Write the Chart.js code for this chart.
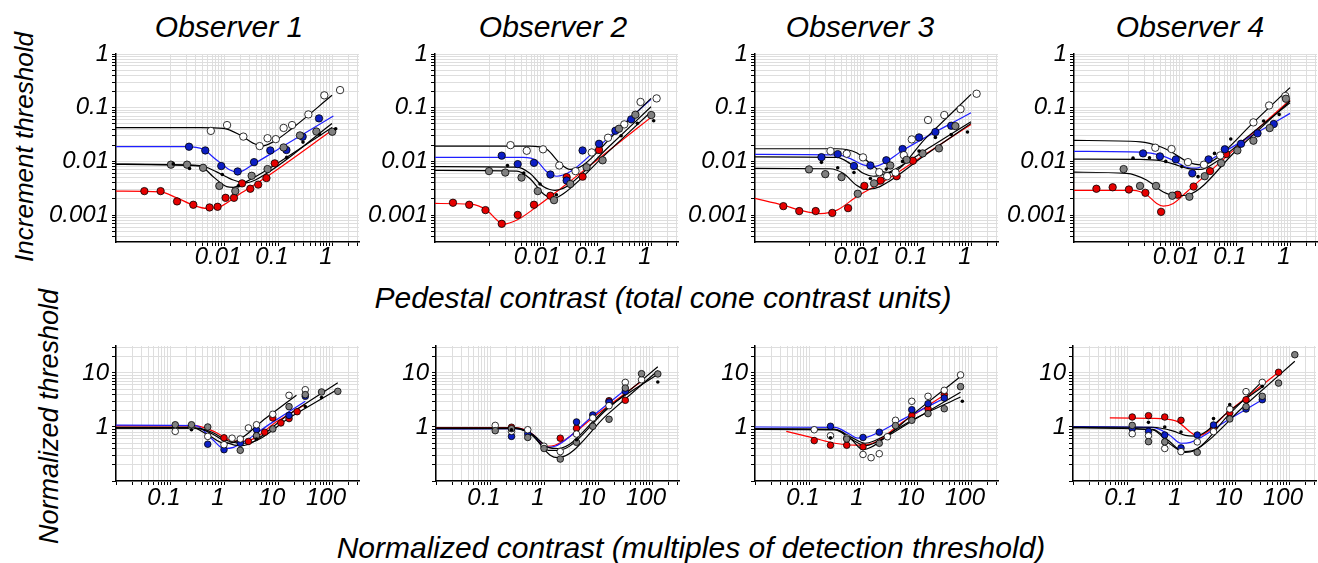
<!DOCTYPE html>
<html>
<head>
<meta charset="utf-8">
<script src="https://cdn.jsdelivr.net/npm/chart.js@4.4.1/dist/chart.umd.min.js"></script>
<style>
    body { margin: 0; width: 1318px; height: 563px; position: relative; overflow: hidden; background: #fff;
           font-family: 'Liberation Sans', Arial, Helvetica, sans-serif; font-style: italic; color: #000; }
    .lbl { position: absolute; white-space: nowrap; text-align: center; }
    .rot { transform: rotate(-90deg); }
    canvas { position: absolute; }
</style>
</head>
<body>
<div class="lbl" style="left:129px;top:12px;width:200px;font-size:30px;line-height:30px">Observer 1</div>
<div class="lbl" style="left:453px;top:12px;width:200px;font-size:30px;line-height:30px">Observer 2</div>
<div class="lbl" style="left:760px;top:12px;width:200px;font-size:30px;line-height:30px">Observer 3</div>
<div class="lbl" style="left:1090px;top:12px;width:200px;font-size:30px;line-height:30px">Observer 4</div>
<div class="lbl" style="left:263px;top:283px;width:800px;font-size:30px;line-height:30px">Pedestal contrast (total cone contrast units)</div>
<div class="lbl" style="left:291px;top:533px;width:800px;font-size:30px;line-height:30px">Normalized contrast (multiples of detection threshold)</div>
<div class="lbl rot" style="left:-126px;top:134px;width:300px;height:26px;font-size:26px;line-height:26px">Increment threshold</div>
<div class="lbl rot" style="left:-101px;top:403px;width:300px;height:27px;font-size:27px;line-height:27px">Normalized threshold</div>

<script>
const FONT = "'Liberation Sans', Arial, Helvetica, sans-serif";

// tick labels and axis ranges
const topXLabels = [0.01, 0.1, 1];
const topYLabels = [0.001, 0.01, 0.1, 1];
const botXLabels = [0.1, 1, 10, 100];
const botYLabels = [1, 10];
const topXRange = [0.0001, 3.16];
const topYRange = [0.000316, 1];
const botXRange = [0.01, 316];
const botYRange = [0.1, 31.6];

// ---- Observer 1 (increment thresholds) ----
const o1White = [[0.0057,0.037],[0.0114,0.0475],[0.0228,0.029],[0.0457,0.0193],[0.064,0.027],[0.091,0.026],[0.127,0.042],[0.182,0.0475],[0.365,0.075],[0.72,0.17],[1.41,0.213]];
const o1WhiteFit = [[0.0001,0.0424],[0.0036,0.0424],[0.0097,0.0412],[0.0198,0.031],[0.035,0.0217],[0.05,0.0193],[0.082,0.0232],[0.167,0.0384],[1,0.17]];
const o1Blue = [[0.00225,0.0188],[0.0045,0.016],[0.0089,0.0082],[0.0179,0.0065],[0.036,0.0097],[0.072,0.016],[0.143,0.0163],[0.286,0.0288],[0.574,0.0633]];
const o1BlueFit = [[0.0001,0.0188],[0.002,0.0188],[0.0041,0.0168],[0.0073,0.0106],[0.0129,0.0069],[0.0184,0.0063],[0.035,0.0089],[0.126,0.0193],[1.06,0.07]];
const o1Gray = [[0.00104,0.0087],[0.00207,0.0087],[0.0041,0.0076],[0.0082,0.0035],[0.0162,0.0028],[0.0325,0.0054],[0.064,0.0072],[0.127,0.0182],[0.255,0.0305],[0.513,0.036],[1.01,0.0357]];
const o1GrayFit = [[0.0001,0.0088],[0.0036,0.0082],[0.0063,0.0052],[0.0112,0.0034],[0.0149,0.0033],[0.026,0.0042],[0.062,0.0069],[1,0.043]];
const o1Dots = [[0.00115,0.009],[0.0023,0.0074],[0.0093,0.0057],[0.0184,0.0035],[0.145,0.0119],[0.29,0.0229],[0.59,0.0318],[1.17,0.0406]];
const o1DotsFit = [[0.0001,0.0089],[0.0036,0.0084],[0.0073,0.0064],[0.0149,0.0045],[0.026,0.004],[0.062,0.006],[1,0.051]];
const o1Red = [[0.000335,0.0028],[0.00067,0.0028],[0.00135,0.0018],[0.0027,0.00156],[0.0054,0.00139],[0.0076,0.00143],[0.0107,0.0021],[0.0153,0.0021],[0.0216,0.0039],[0.0307,0.0031],[0.043,0.0037],[0.061,0.0049],[0.087,0.0092]];
const o1RedFit = [[0.0001,0.0028],[0.00065,0.0027],[0.00133,0.0021],[0.0027,0.00153],[0.0048,0.00133],[0.0084,0.00143],[0.0198,0.0025],[0.062,0.0052],[1,0.038]];

// ---- Observer 2 ----
const o2White = [[0.0025,0.0201],[0.005,0.0158],[0.01,0.0168],[0.02,0.0084],[0.04,0.0066],[0.08,0.0147],[0.16,0.0276],[0.32,0.0489],[0.64,0.128],[1.27,0.149]];
const o2WhiteFit = [[0.0001,0.0193],[0.0057,0.0193],[0.0117,0.0168],[0.0206,0.0092],[0.0316,0.0071],[0.056,0.0086],[0.2,0.031],[1,0.149]];
const o2Blue = [[0.00172,0.0128],[0.0034,0.0089],[0.0068,0.0094],[0.0137,0.0057],[0.0274,0.0044],[0.054,0.016],[0.109,0.0213],[0.219,0.0372],[0.43,0.0607]];
const o2BlueFit = [[0.0001,0.0119],[0.0043,0.0119],[0.0076,0.0103],[0.0117,0.0064],[0.0179,0.0053],[0.0316,0.0064],[0.18,0.0306],[1,0.143]];
const o2Gray = [[0.001,0.0066],[0.002,0.0062],[0.004,0.005],[0.008,0.0028],[0.016,0.0019],[0.032,0.0038],[0.064,0.0078],[0.127,0.0105],[0.255,0.0406],[0.513,0.074],[1.01,0.073]];
const o2GrayFit = [[0.0001,0.0068],[0.0033,0.0066],[0.0057,0.0048],[0.0101,0.0025],[0.0155,0.00205],[0.0238,0.0025],[0.15,0.0141],[1,0.084]];
const o2Dots = [[0.0022,0.0084],[0.0044,0.0061],[0.0088,0.0038],[0.0177,0.0024],[0.28,0.0301],[0.56,0.0511],[1.12,0.0573]];
const o2DotsFit = [[0.0001,0.008],[0.0033,0.0078],[0.0057,0.006],[0.0101,0.0034],[0.0167,0.0029],[0.0274,0.0034],[0.16,0.0182],[1,0.104]];
const o2Red = [[0.000215,0.0017],[0.00043,0.00156],[0.00086,0.00124],[0.00172,0.00069],[0.0034,0.00101],[0.0068,0.00156],[0.0137,0.0023],[0.0274,0.0051],[0.054,0.0052],[0.109,0.0163]];
const o2RedFit = [[0.0001,0.00165],[0.00045,0.0016],[0.0009,0.00124],[0.0014,0.00081],[0.00184,0.00068],[0.0033,0.00081],[0.0076,0.00143],[0.0238,0.0034],[0.15,0.0147],[1,0.066]];

// ---- Observer 3 ----
const o3White = [[0.0025,0.0156],[0.005,0.0139],[0.01,0.0119],[0.02,0.0063],[0.028,0.0053],[0.04,0.0062],[0.057,0.0131],[0.08,0.0257],[0.16,0.059],[0.32,0.073],[0.64,0.094],[1.27,0.182]];
const o3WhiteFit = [[0.0001,0.0172],[0.0033,0.0172],[0.0076,0.0145],[0.0135,0.0092],[0.0206,0.0067],[0.0316,0.0062],[0.15,0.028],[1,0.177]];
const o3Blue = [[0.0017,0.012],[0.0034,0.0137],[0.0068,0.0082],[0.0137,0.0084],[0.027,0.0105],[0.054,0.017],[0.109,0.028],[0.219,0.0352],[0.43,0.0462]];
const o3BlueFit = [[0.0001,0.0135],[0.0033,0.0132],[0.0057,0.0114],[0.0101,0.0086],[0.0155,0.008],[0.0238,0.0092],[0.056,0.0163],[1,0.0807]];
const o3Gray = [[0.001,0.0071],[0.002,0.0058],[0.004,0.0051],[0.008,0.0025],[0.016,0.0039],[0.032,0.0084],[0.064,0.0107],[0.127,0.0141],[0.255,0.0175],[0.513,0.0455]];
const o3GrayFit = [[0.0001,0.0074],[0.00245,0.0073],[0.0043,0.006],[0.0076,0.0036],[0.0117,0.003],[0.0206,0.0034],[0.14,0.013],[1,0.0511]];
const o3Dots = [[0.0017,0.0096],[0.0034,0.0076],[0.0068,0.0062],[0.0137,0.0048],[0.027,0.0072],[0.054,0.01],[0.109,0.0156],[0.219,0.028],[0.43,0.0318],[0.86,0.0352]];
const o3DotsFit = [[0.0001,0.0122],[0.0033,0.0119],[0.0057,0.0092],[0.0101,0.006],[0.0155,0.0053],[0.0316,0.0064],[0.18,0.0188],[1,0.0548]];
const o3Red = [[0.000335,0.00147],[0.00066,0.00119],[0.00133,0.00119],[0.0027,0.0011],[0.0053,0.00135],[0.0106,0.0035],[0.0212,0.0044],[0.042,0.0053],[0.084,0.0103]];
const o3RedFit = [[0.0001,0.00205],[0.000335,0.00153],[0.00068,0.00124],[0.0016,0.00107],[0.0033,0.00124],[0.0076,0.0022],[0.0238,0.0042],[0.15,0.0141],[1,0.0489]];

// ---- Observer 4 ----
const o4White = [[0.0032,0.018],[0.0064,0.017],[0.0129,0.0097],[0.0255,0.0087],[0.051,0.0129],[0.21,0.0533],[0.41,0.11],[0.82,0.165]];
const o4WhiteFit = [[0.0001,0.0246],[0.0017,0.0232],[0.004,0.0188],[0.0071,0.0141],[0.0126,0.0099],[0.0222,0.0086],[0.039,0.0106],[0.2,0.0506],[1,0.236]];
const o4Blue = [[0.0019,0.0141],[0.0039,0.0124],[0.0077,0.0109],[0.0155,0.006],[0.031,0.0109],[0.062,0.0168],[0.124,0.0213],[0.25,0.0333],[0.5,0.0497]];
const o4BlueFit = [[0.0001,0.0154],[0.0017,0.0149],[0.004,0.0131],[0.0071,0.0103],[0.0126,0.0077],[0.0187,0.0075],[0.033,0.0106],[0.18,0.0287],[1,0.0784]];
const o4Gray = [[0.00083,0.0072],[0.00167,0.0035],[0.0033,0.0035],[0.0066,0.0023],[0.0137,0.0022],[0.0263,0.0053],[0.053,0.0093],[0.106,0.016],[0.21,0.0243],[0.42,0.0418],[0.84,0.147]];
const o4GrayFit = [[0.0001,0.0063],[0.00094,0.006],[0.0022,0.0045],[0.0045,0.0027],[0.008,0.0023],[0.0131,0.0024],[0.1,0.0158],[1,0.133]];
const o4Dots = [[0.00124,0.0115],[0.0025,0.0117],[0.005,0.01],[0.0099,0.008],[0.0198,0.0052],[0.04,0.0141],[0.08,0.0261],[0.325,0.0565],[0.63,0.075]];
const o4DotsFit = [[0.0001,0.011],[0.0017,0.0109],[0.004,0.0103],[0.0071,0.0089],[0.0126,0.0074],[0.0222,0.0071],[0.039,0.0092],[0.2,0.034],[1,0.124]];
const o4Red = [[0.00026,0.0031],[0.00052,0.0033],[0.00104,0.003],[0.0021,0.0026],[0.0041,0.00115],[0.0083,0.0024],[0.0164,0.0034],[0.033,0.0066],[0.066,0.0137]];
const o4RedFit = [[0.0001,0.0029],[0.00126,0.0029],[0.0022,0.0024],[0.0034,0.00165],[0.0045,0.00147],[0.0069,0.00165],[0.0122,0.0027],[0.1,0.0177],[1,0.139]];

// ---- Observer 1 (normalized) ----
const n1White = [[0.125,0.83],[0.25,1.03],[0.5,0.67],[1,0.47],[1.41,0.62],[2,0.6],[2.83,0.96],[4,1.1],[8,1.72],[16,3.86],[32,4.9]];
const n1WhiteFit = [[0.01,0.98],[0.25,0.98],[0.5,0.72],[1,0.5],[1.5,0.52],[6,1.47],[22,3.86]];
const n1Blue = [[0.5,0.48],[1,0.38],[2,0.5],[4,0.89],[16,1.64],[32,3.7]];
const n1BlueFit = [[0.01,1.08],[0.3,1.06],[0.6,0.6],[1,0.4],[1.5,0.42],[7,1.13],[32,3.0]];
const n1Gray = [[0.125,1.1],[0.25,1.1],[0.5,1.0],[2,0.37],[4,0.69],[8,0.92],[16,2.38],[32,3.97],[64,4.45],[128,4.57]];
const n1GrayFit = [[0.01,0.95],[0.3,0.95],[0.6,0.75],[1.2,0.5],[2,0.45],[16,1.72],[128,6.6]];
const n1Dots = [[0.25,0.89],[4,0.6],[32,2.4],[64,3.5]];
const n1DotsFit = [[0.01,0.95],[0.3,0.95],[0.6,0.8],[1.2,0.55],[2.5,0.5],[18,1.58],[128,5.0]];
const n1Red = [[1,0.63],[2,0.52],[2.83,0.54],[4,0.67],[5.66,0.8],[8,1.47],[11.3,1.19],[16,1.43],[22.6,1.92]];
const n1RedFit = [[0.01,1.05],[0.3,1.05],[0.7,0.8],[1.5,0.55],[2.5,0.55],[10,1.3],[32,2.6]];

// ---- Observer 2 (normalized) ----
const n2White = [[0.125,1.07],[0.25,0.83],[0.5,0.89],[1,0.44],[2,0.35],[4,0.74],[8,1.47],[16,2.48],[32,6.7],[64,7.5]];
const n2WhiteFit = [[0.01,0.95],[0.3,0.95],[0.6,0.72],[1.2,0.37],[1.8,0.37],[15,2.17],[128,13]];
const n2Blue = [[0.25,0.67],[0.5,0.75],[4,1.24],[8,1.67],[16,2.9],[32,4.57]];
const n2BlueFit = [[0.01,0.92],[0.3,0.93],[0.6,0.74],[1.1,0.42],[1.6,0.44],[8,1.6],[32,4.9]];
const n2Gray = [[0.125,0.855],[0.25,0.93],[0.5,0.64],[1,0.4],[2,0.255],[4,0.52],[8,1.03],[16,1.39],[32,5.27],[64,9.7],[128,9.6]];
const n2GrayFit = [[0.01,0.93],[0.3,0.93],[0.6,0.7],[1.3,0.3],[1.8,0.27],[15,1.71],[128,11]];
const n2Dots = [[0.25,0.89],[4,0.58],[128,6.8]];
const n2DotsFit = [[0.01,0.95],[0.3,0.95],[0.6,0.74],[1.2,0.42],[1.8,0.4],[15,2.3],[128,9.5]];
const n2Red = [[0.25,0.99],[2,0.62],[4,0.95],[16,3.07],[32,3.12]];
const n2RedFit = [[0.01,0.97],[0.3,0.97],[0.6,0.75],[1.1,0.44],[1.6,0.46],[10,1.78],[64,7.0]];

// ---- Observer 3 (normalized) ----
const n3White = [[0.125,0.89],[0.25,0.69],[0.5,0.63],[1,0.31],[1.41,0.27],[2,0.32],[2.83,0.66],[4,1.33],[8,2.99],[16,3.7],[32,4.77],[64,9.2]];
const n3WhiteFit = [[0.01,0.92],[0.3,0.9],[0.6,0.6],[1,0.38],[1.4,0.42],[10,1.99],[64,8.6]];
const n3Blue = [[0.25,1.03],[1,0.64],[2,0.8],[8,2.09],[16,2.7],[32,3.44]];
const n3BlueFit = [[0.01,1.0],[0.3,0.98],[0.55,0.75],[0.8,0.62],[1.2,0.65],[6,1.46],[32,3.4]];
const n3Gray = [[0.5,0.6],[2,0.5],[4,1.06],[8,1.33],[16,1.77],[32,2.18],[64,5.58]];
const n3GrayFit = [[0.01,0.9],[0.3,0.88],[0.6,0.6],[1.1,0.45],[1.6,0.5],[10,1.47],[64,4.4]];
const n3Dots = [[0.25,0.63],[69,2.99]];
const n3DotsFit = [[0.01,0.92],[0.3,0.9],[0.6,0.65],[1.1,0.5],[1.6,0.55],[10,1.5],[64,3.6]];
const n3Red = [[0.125,0.56],[0.25,0.46],[0.5,0.46],[1,0.43],[8,1.62],[16,2.18],[32,3.97]];
const n3RedFit = [[0.038,0.83],[0.125,0.62],[0.3,0.5],[0.7,0.46],[1.2,0.47],[6,1.32],[32,3.9]];

// ---- Observer 4 (normalized) ----
const n4White = [[0.125,0.75],[0.25,0.69],[0.5,0.4],[1,0.35],[2,0.53],[4,0.82],[8,2.15],[16,4.51],[32,6.7]];
const n4WhiteFit = [[0.01,0.98],[0.3,0.9],[0.6,0.55],[1.1,0.35],[1.6,0.36],[8,1.77],[32,7.0]];
const n4Blue = [[0.125,0.93],[0.25,0.83],[0.5,0.71],[1,0.41],[2,0.71],[4,1.09],[16,2.15],[32,3.2]];
const n4BlueFit = [[0.01,1.02],[0.3,0.98],[0.6,0.72],[1,0.5],[1.5,0.52],[7,1.3],[32,3.2]];
const n4Gray = [[0.125,1.07],[0.25,0.535],[0.5,0.53],[2,0.34],[8,1.41],[16,2.38],[32,3.7],[64,6.5],[128,21.8]];
const n4GrayFit = [[0.01,0.96],[0.3,0.88],[0.6,0.5],[1.2,0.34],[1.7,0.36],[15,2.47],[128,16.5]];
const n4Dots = [[0.25,1.22],[0.5,1.0],[1,0.81],[4,1.43],[8,2.59],[32,5.66]];
const n4DotsFit = [[0.01,1.0],[0.3,0.99],[0.7,0.85],[1.2,0.7],[1.8,0.68],[8,2.01],[32,5.5]];
const n4Red = [[0.125,1.53],[0.25,1.62],[0.5,1.53],[1,1.33],[4,0.96],[8,1.82],[16,3.2],[64,10.3]];
const n4RedFit = [[0.048,1.47],[0.3,1.45],[0.8,1.3],[1.5,0.8],[2,0.68],[8,2.02],[64,10.3]];

// log-axis grid positions: 1..9 x 10^k between lo and hi
function decadeTicks(lo, hi) {
    const out = [];
    for (let k = Math.floor(Math.log10(lo)); k <= Math.ceil(Math.log10(hi)); k++) {
        for (let j = 1; j <= 9; j++) {
            const v = Number((j * Math.pow(10, k)).toPrecision(6));
            if (v >= lo * 0.999 && v <= hi * 1.001) out.push(v);
        }
    }
    return out;
}

function logAxis(range, gridFrom, labels, horizontal, labelPad) {
    return {
        type: 'logarithmic',
        position: horizontal ? 'bottom' : 'left',
        min: range[0],
        max: range[1],
        bounds: 'data',
        afterBuildTicks: s => { s.ticks = decadeTicks(gridFrom, range[1]).map(v => ({ value: v })); },
        afterFit: s => {
            if (horizontal) s.height = 40; else s.width = 110;
            s.paddingLeft = s.paddingRight = s.paddingTop = s.paddingBottom = 0;
        },
        grid: { color: '#dedede', lineWidth: 1, tickLength: 4, tickColor: '#000', drawTicks: true },
        border: { color: '#000', width: 1.5 },
        ticks: {
            autoSkip: false, maxRotation: 0, minRotation: 0,
            padding: labelPad,
            labelOffset: horizontal ? -6 : 0,
            color: '#000',
            font: { family: FONT, size: 24, style: 'italic' },
            callback: v => {
                const hit = labels.find(l => Math.abs(l - v) < l * 1e-6);
                return hit === undefined ? '' : String(hit);
            }
        }
    };
}

const toXY = arr => arr.map(([x, y]) => ({ x, y }));

function fitLine(data, color) {
    return { data: toXY(data), showLine: true, borderColor: color, borderWidth: 1.2, pointRadius: 0,
             cubicInterpolationMode: 'monotone', fill: false, order: 2 };
}

function marks(data, fill, r, border) {
    return { data: toXY(data), showLine: false, pointRadius: r, pointBackgroundColor: fill,
             pointBorderColor: '#000', pointBorderWidth: border, order: 1 };
}

function panelSets(s, r) {
    return [
        fitLine(s.whiteFit, '#000'), fitLine(s.grayFit, '#000'), fitLine(s.dotsFit, '#000'),
        fitLine(s.blueFit, '#1f1fff'), fitLine(s.redFit, '#ff0000'),
        marks(s.dots, '#000', 1.8, 0),
        marks(s.gray, '#808080', r, 0.8), marks(s.white, '#ffffff', r, 0.8),
        marks(s.blue, '#0c1ec4', r, 0.8), marks(s.red, '#e60000', r, 0.8)
    ];
}

const topPanels = [
    { left: 116, s: { white: o1White, whiteFit: o1WhiteFit, blue: o1Blue, blueFit: o1BlueFit, gray: o1Gray, grayFit: o1GrayFit, dots: o1Dots, dotsFit: o1DotsFit, red: o1Red, redFit: o1RedFit } },
    { left: 435, s: { white: o2White, whiteFit: o2WhiteFit, blue: o2Blue, blueFit: o2BlueFit, gray: o2Gray, grayFit: o2GrayFit, dots: o2Dots, dotsFit: o2DotsFit, red: o2Red, redFit: o2RedFit } },
    { left: 755, s: { white: o3White, whiteFit: o3WhiteFit, blue: o3Blue, blueFit: o3BlueFit, gray: o3Gray, grayFit: o3GrayFit, dots: o3Dots, dotsFit: o3DotsFit, red: o3Red, redFit: o3RedFit } },
    { left: 1074, s: { white: o4White, whiteFit: o4WhiteFit, blue: o4Blue, blueFit: o4BlueFit, gray: o4Gray, grayFit: o4GrayFit, dots: o4Dots, dotsFit: o4DotsFit, red: o4Red, redFit: o4RedFit } }
];
const bottomPanels = [
    { left: 116, s: { white: n1White, whiteFit: n1WhiteFit, blue: n1Blue, blueFit: n1BlueFit, gray: n1Gray, grayFit: n1GrayFit, dots: n1Dots, dotsFit: n1DotsFit, red: n1Red, redFit: n1RedFit } },
    { left: 436, s: { white: n2White, whiteFit: n2WhiteFit, blue: n2Blue, blueFit: n2BlueFit, gray: n2Gray, grayFit: n2GrayFit, dots: n2Dots, dotsFit: n2DotsFit, red: n2Red, redFit: n2RedFit } },
    { left: 755, s: { white: n3White, whiteFit: n3WhiteFit, blue: n3Blue, blueFit: n3BlueFit, gray: n3Gray, grayFit: n3GrayFit, dots: n3Dots, dotsFit: n3DotsFit, red: n3Red, redFit: n3RedFit } },
    { left: 1073, s: { white: n4White, whiteFit: n4WhiteFit, blue: n4Blue, blueFit: n4BlueFit, gray: n4Gray, grayFit: n4GrayFit, dots: n4Dots, dotsFit: n4DotsFit, red: n4Red, redFit: n4RedFit } }
];

// plot area: 243 px wide; top row 188 px tall from y=54, bottom row 135 px tall from y=346
function buildPanel(p, top, plotH, xAxis, yAxis, r) {
    const canvas = document.createElement('canvas');
    canvas.width = 361;
    canvas.height = 30 + plotH + 40;
    canvas.style.left = (p.left - 110) + 'px';
    canvas.style.top = (top - 30) + 'px';
    document.body.appendChild(canvas);
    new Chart(canvas.getContext('2d'), {
        type: 'scatter',
        data: { datasets: panelSets(p.s, r) },
        options: {
            responsive: false,
            animation: false,
            devicePixelRatio: 1,
            layout: { padding: { top: 30, right: 8, left: 0, bottom: 0 } },
            plugins: { legend: { display: false }, tooltip: { enabled: false } },
            scales: { x: xAxis, y: yAxis }
        }
    });
}

topPanels.forEach(p => buildPanel(p, 54, 188,
    logAxis(topXRange, 0.001, topXLabels, true, -3),
    logAxis(topYRange, topYRange[0], topYLabels, false, 3), 3.7));
bottomPanels.forEach(p => buildPanel(p, 346, 135,
    logAxis(botXRange, botXRange[0], botXLabels, true, -1),
    logAxis(botYRange, botYRange[0], botYLabels, false, 3), 3.3));
</script>
</body>
</html>
